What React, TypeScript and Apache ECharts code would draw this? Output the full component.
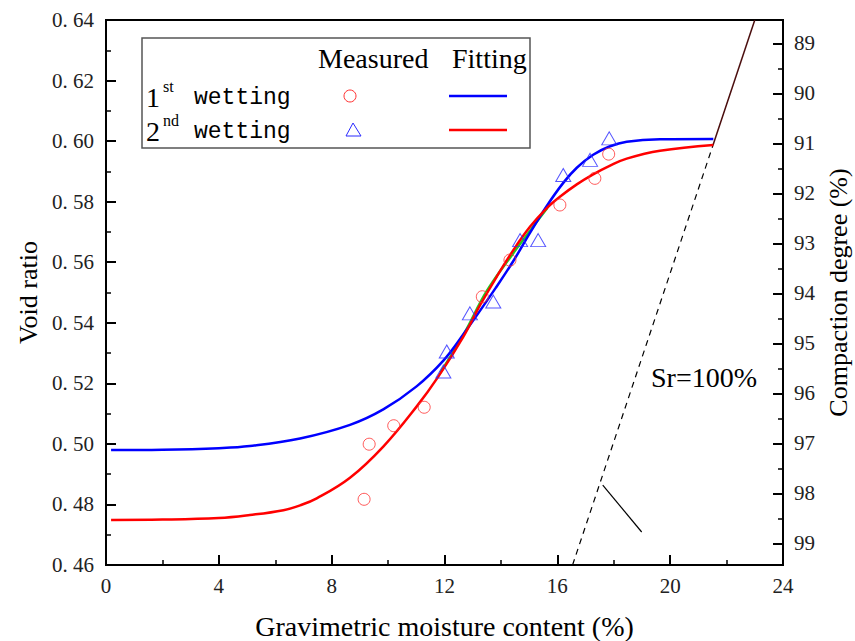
import React, { useEffect, useRef } from "react";
import * as echarts from "echarts";

// Measured points (1st wetting: circles, 2nd wetting: triangles)
const circleX = [9.15, 9.33, 10.2, 11.28, 13.34, 14.32, 16.09, 17.33, 17.82];
const circleY = [0.4817, 0.4999, 0.506, 0.5121, 0.5486, 0.5607, 0.5789, 0.5877, 0.5957];
const triX = [11.96, 12.08, 12.9, 13.73, 14.68, 15.32, 16.21, 17.16, 17.84];
const triY = [0.5239, 0.5305, 0.5431, 0.547, 0.5673, 0.5673, 0.5888, 0.5938, 0.6009];

// Fitting curves
const blueX = [0.18, 2.0, 4.0, 5.1, 6.88, 8.65, 9.83, 11.01, 11.96, 12.67, 13.85, 14.44, 15.03, 15.62, 16.21, 16.69, 17.27, 17.87, 18.46, 19.64, 21.53];
const blueY = [0.498, 0.4981, 0.4986, 0.4993, 0.5018, 0.5063, 0.5114, 0.519, 0.5275, 0.5362, 0.552, 0.5604, 0.5697, 0.5785, 0.5862, 0.5912, 0.5955, 0.5983, 0.5998, 0.6006, 0.6007];
const redX = [0.18, 2.0, 4.0, 5.1, 6.29, 6.88, 7.47, 8.65, 9.83, 11.01, 11.78, 12.67, 13.26, 13.85, 14.44, 15.03, 15.62, 16.09, 16.69, 17.27, 17.87, 18.46, 19.64, 21.53];
const redY = [0.4749, 0.475, 0.4755, 0.4765, 0.4781, 0.4797, 0.482, 0.4888, 0.4991, 0.5123, 0.5222, 0.5354, 0.5458, 0.5552, 0.564, 0.5717, 0.5778, 0.5816, 0.5857, 0.589, 0.5919, 0.5942, 0.5968, 0.5987];
const greenX = [11.85, 12.7, 13.5, 14.4, 15.1, 15.65];
const greenY = [0.5235, 0.5365, 0.5505, 0.5625, 0.5712, 0.578];

// Sr = 100% line
const srDashX = [16.54, 21.52];
const srDashY = [0.46, 0.5987];
const srSolidX = [21.52, 23.0];
const srSolidY = [0.5987, 0.64];
const pointerX = [17.61, 18.99];
const pointerY = [0.4864, 0.4709];

// Axes
const xMin = 0, xMax = 24, xStep = 4;
const yMin = 0.46, yMax = 0.64, yStep = 0.02;
const rMin = 88.534, rMax = 99.434;

const zip = (xs: number[], ys: number[]) => xs.map((x, i) => [x, ys[i]]);

const SERIF = "'Liberation Serif', 'DejaVu Serif', serif";
const MONO = "'Liberation Mono', 'DejaVu Sans Mono', monospace";

export default function App() {
  const ref = useRef<HTMLDivElement>(null);
  useEffect(() => {
    document.body.style.margin = "0";
    const chart = echarts.init(ref.current!, null, { renderer: "svg" });
    const tickLabel = { fontFamily: SERIF, fontSize: 21, color: "#222" };
    chart.setOption({
      animation: false,
      backgroundColor: "#fff",
      grid: {
        left: 106, top: 20, right: 72, bottom: 76,
        outerBoundsMode: "none", containLabel: false,
        show: true, borderColor: "#000", borderWidth: 2, backgroundColor: "transparent",
      },
      xAxis: {
        type: "value", min: xMin, max: xMax, interval: xStep,
        name: "Gravimetric moisture content (%)",
        nameLocation: "middle", nameGap: 47,
        nameTextStyle: { fontFamily: SERIF, fontSize: 28, color: "#000" },
        axisLine: { show: true, lineStyle: { color: "#000", width: 2 } },
        axisTick: { show: true, inside: true, length: 10, lineStyle: { color: "#000", width: 2 } },
        minorTick: { show: true, splitNumber: 2, length: 5, lineStyle: { color: "#000", width: 1.5 } },
        splitLine: { show: false },
        axisLabel: { ...tickLabel, margin: 10 },
      },
      yAxis: [
        {
          type: "value", min: yMin, max: yMax, interval: yStep,
          name: "Void ratio", nameLocation: "middle", nameGap: 64, nameRotate: 90,
          nameTextStyle: { fontFamily: SERIF, fontSize: 26, color: "#000" },
          axisLine: { show: true, lineStyle: { color: "#000", width: 2 } },
          axisTick: { show: true, inside: true, length: 10, lineStyle: { color: "#000", width: 2 } },
          minorTick: { show: true, splitNumber: 2, length: 5, lineStyle: { color: "#000", width: 1.5 } },
          splitLine: { show: false },
          axisLabel: { ...tickLabel, margin: 12, formatter: (v: number) => v.toFixed(2).replace(".", ". ") },
        },
        {
          type: "value", position: "right", inverse: true,
          min: rMin, max: rMax, splitNumber: 10, minInterval: 1, maxInterval: 1,
          name: "Compaction degree (%)", nameLocation: "middle", nameGap: 42, nameRotate: 90,
          nameTextStyle: { fontFamily: SERIF, fontSize: 26, color: "#000" },
          axisLine: { show: true, lineStyle: { color: "#000", width: 2 } },
          axisTick: { show: true, inside: true, length: 10, lineStyle: { color: "#000", width: 2 } },
          minorTick: { show: true, splitNumber: 2, length: 5, lineStyle: { color: "#000", width: 1.5 } },
          splitLine: { show: false },
          axisLabel: {
            ...tickLabel, margin: 11, showMinLabel: false, showMaxLabel: false,
            formatter: (v: number) => (Math.abs(v - Math.round(v)) < 1e-6 ? String(Math.round(v)) : ""),
          },
        },
      ],
      series: [
        {
          type: "line", data: zip(greenX, greenY), showSymbol: false, smooth: 0.4,
          lineStyle: { color: "#22cc22", width: 2.5 }, z: 1,
        },
        {
          type: "line", data: zip(blueX, blueY), showSymbol: false, smooth: 0.4,
          lineStyle: { color: "#0000ff", width: 2.5 }, z: 2,
        },
        {
          type: "line", data: zip(redX, redY), showSymbol: false, smooth: 0.4,
          lineStyle: { color: "#ff0000", width: 2.5 }, z: 3,
        },
        {
          type: "line", data: zip(srDashX, srDashY), showSymbol: false,
          lineStyle: { color: "#000", width: 1.2, type: [6, 5] }, z: 2,
        },
        {
          type: "line", data: zip(srSolidX, srSolidY), showSymbol: false,
          lineStyle: { color: "#4a0d0d", width: 1.5 }, z: 2,
        },
        {
          type: "line", data: zip(pointerX, pointerY), showSymbol: false,
          lineStyle: { color: "#000", width: 1.2 }, z: 2,
        },
        {
          type: "scatter", data: zip(circleX, circleY), symbol: "circle", symbolSize: 12,
          itemStyle: { color: "transparent", borderColor: "#ff3030", borderWidth: 1 }, z: 4,
        },
        {
          type: "scatter", data: zip(triX, triY), symbol: "triangle", symbolSize: [15, 13],
          itemStyle: { color: "transparent", borderColor: "#2a2aff", borderWidth: 1 }, z: 4,
        },
      ],
      graphic: [
        {
          type: "rect", shape: { x: 142, y: 38, width: 388, height: 110 },
          style: { fill: "#fff", stroke: "#555", lineWidth: 1.5 }, z: 10,
        },
        { type: "text", x: 318, y: 58, style: { text: "Measured", font: `28px ${SERIF}`, fill: "#000", textVerticalAlign: "middle" }, z: 11 },
        { type: "text", x: 452, y: 58, style: { text: "Fitting", font: `28px ${SERIF}`, fill: "#000", textVerticalAlign: "middle" }, z: 11 },
        { type: "text", x: 146, y: 97, style: { text: "1", font: `28px ${SERIF}`, fill: "#000", textVerticalAlign: "middle" }, z: 11 },
        { type: "text", x: 163, y: 86, style: { text: "st", font: `16px ${SERIF}`, fill: "#000", textVerticalAlign: "middle" }, z: 11 },
        { type: "text", x: 194, y: 98, style: { text: "wetting", font: `23px ${MONO}`, fill: "#000", textVerticalAlign: "middle" }, z: 11 },
        { type: "text", x: 146, y: 131, style: { text: "2", font: `28px ${SERIF}`, fill: "#000", textVerticalAlign: "middle" }, z: 11 },
        { type: "text", x: 163, y: 120, style: { text: "nd", font: `16px ${SERIF}`, fill: "#000", textVerticalAlign: "middle" }, z: 11 },
        { type: "text", x: 194, y: 132, style: { text: "wetting", font: `23px ${MONO}`, fill: "#000", textVerticalAlign: "middle" }, z: 11 },
        { type: "circle", shape: { cx: 350, cy: 96, r: 6 }, style: { fill: "transparent", stroke: "#ff3030", lineWidth: 1 }, z: 11 },
        { type: "polygon", shape: { points: [[353, 123], [346, 136], [361, 136]] }, style: { fill: "transparent", stroke: "#2a2aff", lineWidth: 1 }, z: 11 },
        { type: "line", shape: { x1: 449, y1: 96, x2: 507, y2: 96 }, style: { stroke: "#0000ff", lineWidth: 2.5 }, z: 11 },
        { type: "line", shape: { x1: 449, y1: 130, x2: 507, y2: 130 }, style: { stroke: "#ff0000", lineWidth: 2.5 }, z: 11 },
        { type: "text", x: 651, y: 377, style: { text: "Sr=100%", font: `28px ${SERIF}`, fill: "#000", textVerticalAlign: "middle" }, z: 11 },
      ],
    });
    return () => chart.dispose();
  }, []);
  return <div ref={ref} style={{ width: 855, height: 641 }} />;
}
